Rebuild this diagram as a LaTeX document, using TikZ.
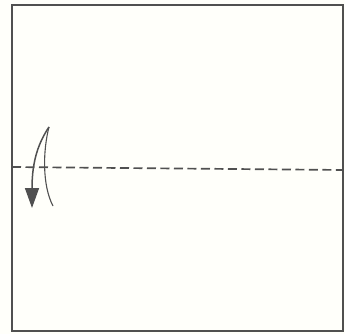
\documentclass[tikz,border=0pt]{standalone}
\usetikzlibrary{arrows.meta}
\definecolor{paper}{HTML}{FFFFFA}
\definecolor{ink}{HTML}{505050}
\tikzset{
  frame/.style={draw=ink, line width=1.4pt},
  foldline/.style={draw=ink, line width=1.7pt, dash pattern=on 9pt off 4.5pt},
  foldarrow/.style={draw=ink, line width=1.5pt, -{Triangle[length=20pt,width=14pt]}},
  backline/.style={draw=ink, line width=1.1pt}
}
\begin{document}
\begin{tikzpicture}[x=1pt,y=-1pt]
\useasboundingbox (0,0) rectangle (345,334);
\fill[paper] (0,0) rectangle (345,334);
\draw[frame] (12,5) rectangle (343,331);
\coordinate (fl) at (12,167);
\coordinate (fr) at (343,170);
\draw[foldline] (fl) -- (fr);
\coordinate (top) at (49,127);
\coordinate (tip) at (32,208);
\coordinate (tail) at (53,206);
\draw[foldarrow] (top) .. controls (39,142) and (32,160) .. (tip);
\draw[backline] (top) .. controls (43,150) and (42,185) .. (tail);
\end{tikzpicture}
\end{document}
